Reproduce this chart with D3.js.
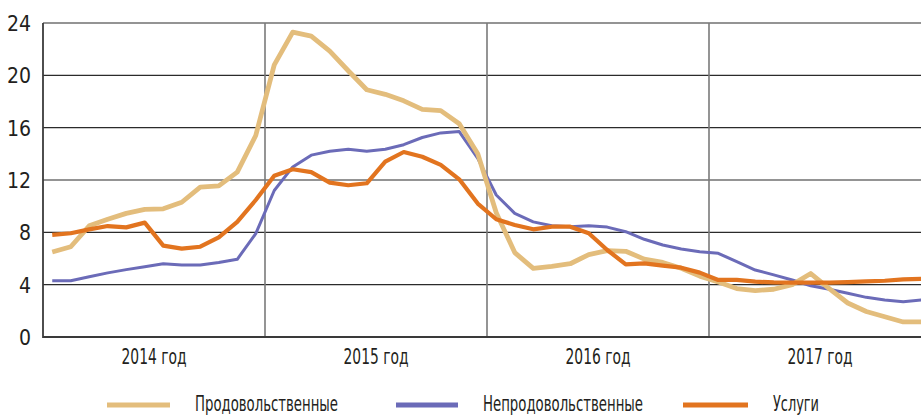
<!DOCTYPE html>
<html>
<head>
<meta charset="utf-8">
<script src="https://cdn.jsdelivr.net/npm/d3@7/dist/d3.min.js"></script>
<style>
  html, body { margin: 0; padding: 0; background: #fff; }
  svg { display: block; }
  text { font-family: "Liberation Sans Narrow", "DejaVu Sans Condensed", "Roboto", sans-serif; fill: #231f20; }
</style>
</head>
<body>
<svg id="chart" width="921" height="415"></svg>
<script>
// ---- DATA (monthly, Jan 2014 – Dec 2017, % y/y) ----
const years = ["2014 год", "2015 год", "2016 год", "2017 год"];
const yTicks = [0, 4, 8, 12, 16, 20, 24];
const seriesNames = ["Продовольственные", "Непродовольственные", "Услуги"];

const food = [6.5, 6.9, 8.5, 9.0, 9.45, 9.75, 9.8, 10.3, 11.45, 11.55, 12.6, 15.4,
  20.8, 23.3, 23.0, 21.85, 20.35, 18.9, 18.55, 18.05, 17.4, 17.3, 16.3, 14.0,
  9.5, 6.45, 5.25, 5.4, 5.6, 6.3, 6.6, 6.55, 5.95, 5.7, 5.25, 4.65,
  4.2, 3.7, 3.55, 3.65, 4.0, 4.85, 3.7, 2.6, 1.95, 1.55, 1.15, 1.15];

const nonFood = [4.3, 4.3, 4.6, 4.9, 5.15, 5.37, 5.6, 5.5, 5.5, 5.7, 5.94, 7.9,
  11.2, 13.0, 13.9, 14.2, 14.35, 14.2, 14.35, 14.7, 15.25, 15.6, 15.7, 13.65,
  10.85, 9.45, 8.8, 8.5, 8.43, 8.5, 8.4, 8.05, 7.47, 7.03, 6.73, 6.52,
  6.4, 5.76, 5.12, 4.75, 4.36, 3.92, 3.65, 3.34, 3.03, 2.83, 2.7, 2.83];

const services = [7.8, 7.93, 8.23, 8.48, 8.38, 8.74, 6.98, 6.75, 6.9, 7.62, 8.8, 10.47,
  12.33, 12.82, 12.6, 11.8, 11.6, 11.75, 13.4, 14.14, 13.78, 13.15, 12.05, 10.2,
  9.0, 8.56, 8.23, 8.43, 8.43, 7.93, 6.65, 5.55, 5.63, 5.45, 5.3, 4.92,
  4.36, 4.36, 4.23, 4.17, 4.15, 4.15, 4.15, 4.2, 4.25, 4.3, 4.4, 4.45];

// ---- LAYOUT ----
const svg = d3.select("#chart");
const padLeft = 43, padTop = 23, plotBottom = 337, monthW = 18.5;
const nMonths = years.length * 12;

const x = d3.scaleLinear().domain([0, nMonths]).range([padLeft, padLeft + nMonths * monthW]);
const y = d3.scaleLinear().domain([0, 24]).range([plotBottom, padTop]);

svg.append("defs").append("clipPath").attr("id", "plotclip")
  .append("rect").attr("x", padLeft).attr("y", 0).attr("width", 921 - padLeft).attr("height", plotBottom + 5);

// horizontal gridlines
svg.append("g").selectAll("line").data(yTicks.filter(d => d > 0)).join("line")
  .attr("x1", padLeft).attr("x2", 921)
  .attr("y1", d => y(d)).attr("y2", d => y(d))
  .attr("stroke", "#2b2b2b").attr("stroke-width", 1.1);

// vertical year separators
svg.append("g").selectAll("line").data(d3.range(1, years.length)).join("line")
  .attr("x1", d => x(d * 12)).attr("x2", d => x(d * 12))
  .attr("y1", padTop).attr("y2", plotBottom)
  .attr("stroke", "#7a7a7a").attr("stroke-width", 1.6);

// y axis labels
const yAxis = d3.axisLeft(y).tickValues(yTicks).tickSize(0).tickPadding(11);
const gy = svg.append("g").attr("transform", `translate(${padLeft - 1},0)`).call(yAxis);
gy.select(".domain").remove();
gy.selectAll("text").attr("font-size", 21).attr("fill", "#231f20")
  .style("font-family", '"Liberation Sans Narrow","DejaVu Sans Condensed",sans-serif')
  .attr("dy", "0.36em");

// axes frame
svg.append("line").attr("x1", padLeft).attr("x2", padLeft).attr("y1", padTop).attr("y2", plotBottom + 1)
  .attr("stroke", "#3a3a3a").attr("stroke-width", 1.8);
svg.append("line").attr("x1", padLeft).attr("x2", 921).attr("y1", plotBottom).attr("y2", plotBottom)
  .attr("stroke", "#3a3a3a").attr("stroke-width", 2);

// year labels
svg.append("g").selectAll("text").data(years).join("text")
  .attr("x", (d, i) => x(i * 12 + 6)).attr("y", 364)
  .attr("text-anchor", "middle").attr("font-size", 22)
  .attr("textLength", 65).attr("lengthAdjust", "spacingAndGlyphs")
  .text(d => d);

// lines
const line = d3.line().x((d, i) => x(i + 0.5)).y(d => y(d)).curve(d3.curveLinear);
const series = [
  { name: seriesNames[1], values: nonFood, color: "#6b6bb8", width: 3 },
  { name: seriesNames[0], values: food, color: "#e3bd7c", width: 4.8 },
  { name: seriesNames[2], values: services, color: "#e2741f", width: 4.2 }
];
const gLines = svg.append("g").attr("clip-path", "url(#plotclip)");
series.forEach(s => {
  gLines.append("path").datum(s.values)
    .attr("d", line).attr("fill", "none")
    .attr("stroke", s.color).attr("stroke-width", s.width)
    .attr("stroke-linejoin", "round");
});

// legend
const legendItems = [
  { name: seriesNames[0], color: "#e3bd7c", x1: 107, x2: 170, tx: 195, tw: 143 },
  { name: seriesNames[1], color: "#6b6bb8", x1: 396, x2: 458, tx: 483, tw: 160 },
  { name: seriesNames[2], color: "#e2741f", x1: 683, x2: 748, tx: 773, tw: 46 }
];
const lg = svg.append("g");
legendItems.forEach(it => {
  lg.append("line").attr("x1", it.x1).attr("x2", it.x2).attr("y1", 405).attr("y2", 405)
    .attr("stroke", it.color).attr("stroke-width", 5);
  lg.append("text").attr("x", it.tx).attr("y", 410.5).attr("font-size", 21)
    .attr("textLength", it.tw).attr("lengthAdjust", "spacingAndGlyphs")
    .text(it.name);
});
</script>
</body>
</html>
